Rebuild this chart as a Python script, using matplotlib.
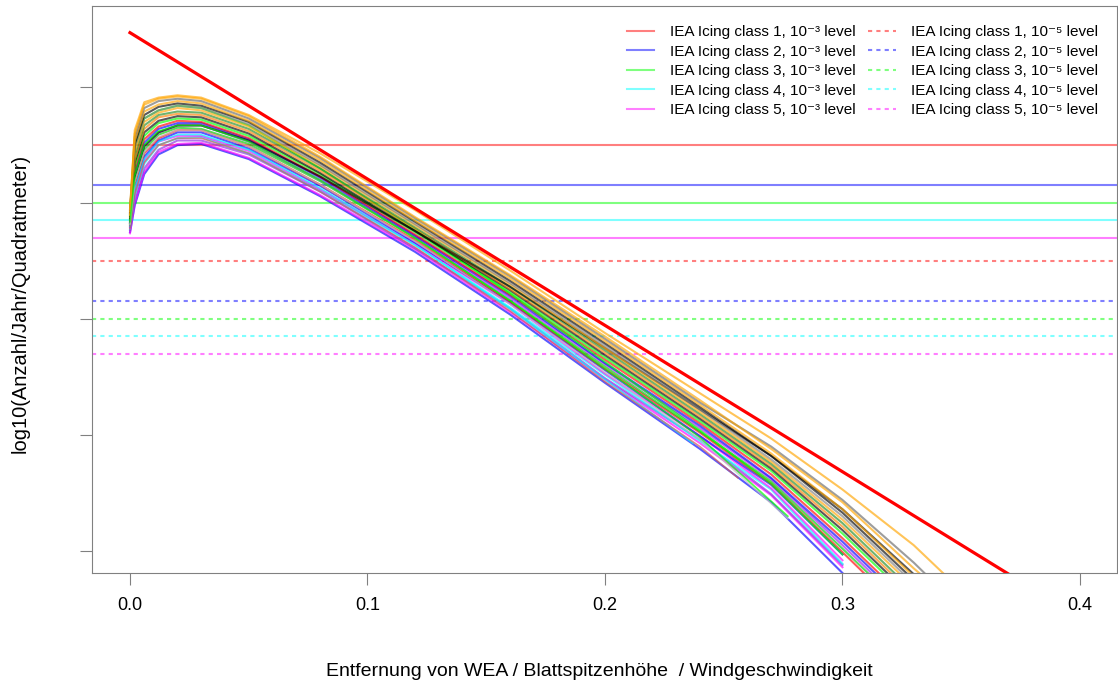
import matplotlib
matplotlib.use("Agg")
import matplotlib.pyplot as plt

plt.rcParams["font.family"] = ["Liberation Sans", "DejaVu Sans"]

# ---- data ----
# common x grid of the simulated curves
sim_x = [0.0, 0.002, 0.006, 0.012, 0.02, 0.03, 0.05, 0.08, 0.12, 0.16,
         0.20, 0.24, 0.27, 0.30, 0.33, 0.35]

# simulated throw curves, log10 values on sim_x (bottom of bundle first)
sim_curves = [
    [-3.25, -3.02, -2.75, -2.58, -2.50, -2.49, -2.62, -2.94, -3.42, -3.96, -4.55, -5.12, -5.58, -6.19],
    [-3.26, -3.00, -2.73, -2.56, -2.49, -2.48, -2.61, -2.93, -3.40, -3.94, -4.52, -5.07, -5.52, -6.14],
    [-3.23, -2.96, -2.70, -2.54, -2.46, -2.46, -2.58, -2.90, -3.39, -3.91, -4.51, -5.04, -5.51, -6.12],
    [-3.22, -2.93, -2.66, -2.50, -2.44, -2.43, -2.57, -2.89, -3.36, -3.90, -4.48, -5.05, -5.47, -6.11],
    [-3.21, -2.90, -2.63, -2.47, -2.42, -2.42, -2.55, -2.88, -3.35, -3.87, -4.47, -5.01, -5.46, -6.08],
    [-3.20, -2.86, -2.60, -2.46, -2.39, -2.39, -2.53, -2.85, -3.34, -3.86, -4.44, -5.01, -5.43, -6.03],
    [-3.19, -2.83, -2.57, -2.44, -2.37, -2.37, -2.51, -2.84, -3.32, -3.85, -4.43, -4.98, -5.42, -6.01, -6.61],
    [-3.18, -2.80, -2.54, -2.41, -2.35, -2.36, -2.49, -2.81, -3.30, -3.84, -4.41, -4.97, -5.40, -5.98, -6.57],
    [-3.17, -2.77, -2.51, -2.39, -2.33, -2.33, -2.47, -2.80, -3.29, -3.82, -4.39, -4.94, -5.38, -5.95, -6.54],
    [-3.16, -2.74, -2.48, -2.36, -2.31, -2.31, -2.45, -2.78, -3.28, -3.80, -4.38, -4.92, -5.37, -5.92, -6.51],
    [-3.15, -2.71, -2.45, -2.34, -2.29, -2.30, -2.44, -2.77, -3.27, -3.79, -4.35, -4.90, -5.34, -5.89, -6.48],
    [-3.14, -2.68, -2.42, -2.31, -2.27, -2.28, -2.42, -2.75, -3.25, -3.77, -4.33, -4.88, -5.31, -5.85, -6.44],
    [-3.09, -2.52, -2.27, -2.20, -2.16, -2.18, -2.33, -2.70, -3.23, -3.78, -4.37, -4.96, -5.42, -6.03],
    [-3.13, -2.65, -2.39, -2.29, -2.25, -2.26, -2.40, -2.74, -3.24, -3.75, -4.31, -4.86, -5.29, -5.82, -6.41],
    [-3.12, -2.62, -2.36, -2.26, -2.23, -2.24, -2.38, -2.72, -3.22, -3.74, -4.29, -4.84, -5.27, -5.79, -6.38],
    [-3.11, -2.59, -2.33, -2.24, -2.21, -2.22, -2.36, -2.70, -3.21, -3.72, -4.27, -4.82, -5.25, -5.76, -6.35],
    [-3.17, -2.77, -2.51, -2.39, -2.33, -2.33, -2.46, -2.77, -3.24, -3.72, -4.25, -4.78, -5.18, -5.64, -6.20],
    [-3.10, -2.55, -2.30, -2.22, -2.18, -2.20, -2.34, -2.68, -3.19, -3.70, -4.25, -4.80, -5.23, -5.73, -6.31],
    [-3.09, -2.52, -2.27, -2.20, -2.16, -2.18, -2.32, -2.67, -3.18, -3.69, -4.23, -4.78, -5.21, -5.70, -6.28, -6.64],
    [-3.08, -2.49, -2.24, -2.17, -2.14, -2.16, -2.30, -2.65, -3.16, -3.67, -4.21, -4.76, -5.18, -5.67, -6.25, -6.60],
    [-3.07, -2.46, -2.21, -2.15, -2.12, -2.14, -2.29, -2.63, -3.15, -3.65, -4.19, -4.74, -5.16, -5.64, -6.22, -6.57],
    [-3.06, -2.43, -2.18, -2.12, -2.10, -2.12, -2.27, -2.61, -3.13, -3.63, -4.17, -4.72, -5.10, -5.56, -6.10, -6.50],
    [-3.05, -2.40, -2.15, -2.10, -2.08, -2.10, -2.25, -2.60, -3.12, -3.62, -4.15, -4.70, -5.12, -5.58, -6.15, -6.50],
    [-3.10, -2.37, -2.13, -2.09, -2.07, -2.09, -2.24, -2.57, -3.06, -3.58, -4.12, -4.64, -5.03, -5.47, -5.95, -6.34],
]
sim_colors = ["#0000FF", "#FF00FF", "#8A2BE2", "#00FFFF", "#FF00FF", "#0000FF",
              "#FF0000", "#00CD00", "#A020F0", "#0000FF", "#FF0000", "#00FF00",
              "#00FF00", "#000000", "#FF7F00", "#228B22", "#000000", "#FFA500",
              "#808080", "#000000", "#FFA500", "#696969", "#FFA500", "#FFA500"]

# curves that stop before reaching the lower edge
short_x = [
    [0.0, 0.002, 0.006, 0.012, 0.02, 0.03, 0.05, 0.08, 0.12, 0.16, 0.20, 0.237],
    [0.0, 0.002, 0.006, 0.012, 0.02, 0.03, 0.05, 0.08, 0.12, 0.16, 0.20, 0.24, 0.256],
    [0.0, 0.002, 0.006, 0.012, 0.02, 0.03, 0.05, 0.08, 0.12, 0.16, 0.20, 0.24, 0.277],
    [0.0, 0.002, 0.006, 0.012, 0.02, 0.03, 0.05, 0.08, 0.12, 0.16, 0.20, 0.24, 0.277],
]
short_y = [
    [-3.20, -2.88, -2.62, -2.47, -2.41, -2.41, -2.54, -2.87, -3.36, -3.91, -4.52, -5.07],
    [-3.22, -2.92, -2.65, -2.50, -2.44, -2.44, -2.57, -2.90, -3.38, -3.93, -4.54, -5.10, -5.37],
    [-3.18, -2.82, -2.56, -2.43, -2.37, -2.37, -2.51, -2.84, -3.33, -3.87, -4.46, -5.04, -5.72],
    [-3.16, -2.76, -2.50, -2.38, -2.33, -2.33, -2.47, -2.80, -3.30, -3.84, -4.43, -5.02, -5.70],
]
short_colors = ["#00FFFF", "#CD5C5C", "#C0C0C0", "#00FF00"]

# limit line (thick red)
limit_x = [0.0, 0.37]
limit_y = [-1.53, -6.20]

# IEA icing class thresholds
class_colors = ["#FF0000", "#0000FF", "#00FF00", "#00FFFF", "#FF00FF"]
level_1e3 = [-2.50, -2.845, -3.00, -3.147, -3.30]
level_1e5 = [-3.50, -3.845, -4.00, -4.147, -4.30]

x_ticks = [0.0, 0.1, 0.2, 0.3, 0.4]
x_tick_labels = ["0.0", "0.1", "0.2", "0.3", "0.4"]
y_ticks = [-2, -3, -4, -5, -6]

# ---- plot ----
fig = plt.figure(figsize=(11.18, 6.85), dpi=100)
ax = fig.add_axes([92 / 1118, 1 - 573 / 685, 1025 / 1118, 567 / 685])

for i, (lev, col) in enumerate(zip(level_1e3, class_colors)):
    ax.axhline(lev, color=col, alpha=0.5, lw=1.5, zorder=1,
               label=f"IEA Icing class {i + 1}, 10\u207b\u00b3 level")
for i, (lev, col) in enumerate(zip(level_1e5, class_colors)):
    ax.axhline(lev, color=col, alpha=0.5, lw=1.5, ls=(0, (2, 2)), zorder=1,
               label=f"IEA Icing class {i + 1}, 10\u207b\u2075 level")

for ys, col in zip(sim_curves, sim_colors):
    ax.plot(sim_x[:len(ys)], ys, color=col, lw=1.5, alpha=0.65, zorder=2)
for xs, ys, col in zip(short_x, short_y, short_colors):
    ax.plot(xs, ys, color=col, lw=1.2, alpha=0.7, zorder=2)

ax.plot(limit_x, limit_y, color="#FF0000", lw=2.3, zorder=3)

ax.set_xlim(-0.016, 0.4156)
ax.set_ylim(-6.19, -1.30)
ax.set_xticks(x_ticks)
ax.set_xticklabels(x_tick_labels, fontsize=13)
ax.set_yticks(y_ticks)
ax.set_yticklabels([])
ax.tick_params(direction="out", length=8.6, color="#808080", pad=9)
for sp in ax.spines.values():
    sp.set_color("#808080")

fig.text(599 / 1118, 1 - 672 / 685,
         "Entfernung von WEA / Blattspitzenhöhe  / Windgeschwindigkeit",
         ha="center", va="center", fontsize=14)
fig.text(20 / 1118, 1 - 303 / 685, "log10(Anzahl/Jahr/Quadratmeter)",
         ha="center", va="center", rotation=90, fontsize=14.5)

ax.legend(ncol=2, loc="upper right", bbox_to_anchor=(1.0, 1.0), frameon=False,
          fontsize=11, handlelength=1.8, columnspacing=0.85, labelspacing=0.36,
          handletextpad=1.0, borderaxespad=0.85, borderpad=0.4)

fig.savefig("out.png", dpi=100)
